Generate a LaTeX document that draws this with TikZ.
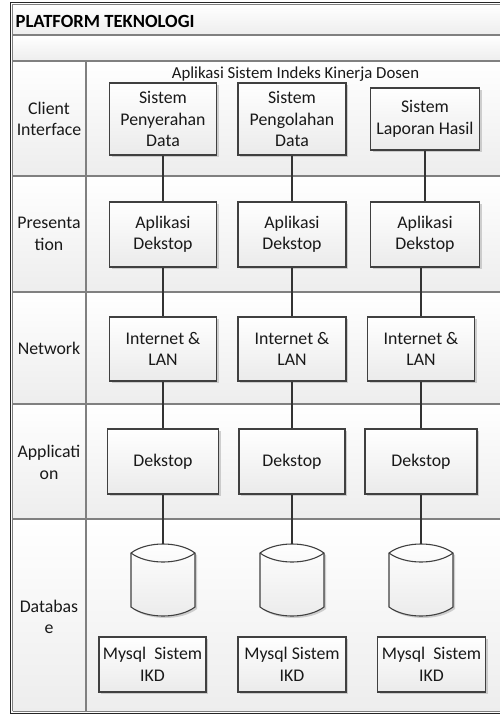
\documentclass[tikz,border=0pt]{standalone}
\usepackage{fontspec}
\setmainfont{Carlito}
\usetikzlibrary{shadows,calc}
\begin{document}
\begin{tikzpicture}[x=1pt,y=-1pt,
  band/.style={top color=white,bottom color=black!7,draw=none},
  divider/.style={draw=black!50,line width=1.4pt},
  outerdark/.style={draw=black!85,line width=0.9pt},
  outerlight/.style={draw=black!50,line width=1pt},
  box/.style={draw=black!75,line width=1.1pt,top color=white,bottom color=black!8,
    align=center,inner sep=0pt,font=\fontsize{17.8}{21.5}\selectfont,text=black!90,
    drop shadow={shadow xshift=2pt,shadow yshift=-2pt,fill=black!30,opacity=0.6}},
  lab/.style={align=center,inner sep=0pt,font=\fontsize{17.8}{21.5}\selectfont,text=black!90},
  conn/.style={draw=black!80,line width=1.3pt},
  cyl/.style={draw=black!75,line width=1.1pt,top color=white,bottom color=black!8},
  cylshadow/.style={fill=black!30,opacity=0.6}
]
\useasboundingbox (0,0) rectangle (500,717);

% row bands
\fill[band] (12,4.5) rectangle (502,35);
\fill[band] (12,35) rectangle (502,61);
\fill[band] (12,61) rectangle (502,176);
\fill[band] (12,176) rectangle (502,292);
\fill[band] (12,292) rectangle (502,404);
\fill[band] (12,404) rectangle (502,519);
\fill[band] (12,519) rectangle (502,711);

% dividers
\foreach \yy in {35,61,176,292,404,519} {\draw[divider] (12,\yy) -- (502,\yy);}
\draw[divider] (86,61) -- (86,711);

% outer double frame
\draw[outerdark] (10,713.5) -- (10,2) -- (502,2);
\draw[outerdark] (10,713.5) -- (502,713.5);
\draw[outerlight] (12.5,711) -- (12.5,4.5) -- (502,4.5);
\draw[outerlight] (12.5,711) -- (502,711);

% title texts
\node[anchor=west,inner sep=0pt,font=\fontsize{18.6}{21}\selectfont\bfseries,text=black] (title) at (15.5,21) {PLATFORM TEKNOLOGI};
\node[inner sep=0pt,font=\fontsize{16.8}{20}\selectfont,text=black!90] (apptitle) at (295.5,74) {Aplikasi Sistem Indeks Kinerja Dosen};

% left labels
\node[lab] (lclient) at (49,119) {Client\\Interface};
\node[lab] (lpres) at (49,234) {Presenta\\tion};
\node[lab] (lnet) at (49,348) {Network};
\node[lab] (lapp) at (49,462.5) {Applicati\\on};
\node[lab] (ldb) at (49,617) {Databas\\e};

% client interface boxes
\node[box,minimum width=107pt,minimum height=72pt] (c1) at (163,119) {Sistem\\Penyerahan\\Data};
\node[box,minimum width=108pt,minimum height=72pt] (c2) at (292,119) {Sistem\\Pengolahan\\Data};
\node[box,minimum width=109pt,minimum height=62pt] (c3) at (425,119) {Sistem\\Laporan Hasil};

% presentation boxes
\node[box,minimum width=107pt,minimum height=65pt] (p1) at (163,234.5) {Aplikasi\\Dekstop};
\node[box,minimum width=108pt,minimum height=65pt] (p2) at (292,234.5) {Aplikasi\\Dekstop};
\node[box,minimum width=109pt,minimum height=65pt] (p3) at (425,234.5) {Aplikasi\\Dekstop};

% network boxes
\node[box,minimum width=107pt,minimum height=64pt] (n1) at (163,349) {Internet \&\\LAN};
\node[box,minimum width=108pt,minimum height=64pt] (n2) at (292,349) {Internet \&\\LAN};
\node[box,minimum width=107pt,minimum height=64pt] (n3) at (421,349) {Internet \&\\LAN};

% application boxes
\node[box,minimum width=111pt,minimum height=65pt] (a1) at (163,461.5) {Dekstop};
\node[box,minimum width=106pt,minimum height=65pt] (a2) at (292,461.5) {Dekstop};
\node[box,minimum width=112pt,minimum height=65pt] (a3) at (421,461.5) {Dekstop};

% mysql boxes
\node[box,minimum width=107pt,minimum height=55pt] (m1) at (152.5,664.5) {Mysql\ \ Sistem\\IKD};
\node[box,minimum width=108pt,minimum height=55pt] (m2) at (292,664.5) {Mysql Sistem\\IKD};
\node[box,minimum width=108pt,minimum height=55pt] (m3) at (431.5,664.5) {Mysql\ \ Sistem\\IKD};

% database cylinders
\foreach \cx/\n in {163/1,292/2,421/3} {
  \begin{scope}[shift={(2,2)}]
    \fill[cylshadow] (\cx-32,553) -- (\cx-32,607) .. controls (\cx-16,619) and (\cx+16,619) .. (\cx+32,607) -- (\cx+32,553) .. controls (\cx+16,541) and (\cx-16,541) .. cycle;
  \end{scope}
  \draw[cyl] (\cx-32,553) -- (\cx-32,607) .. controls (\cx-16,619) and (\cx+16,619) .. (\cx+32,607) -- (\cx+32,553) .. controls (\cx+16,541) and (\cx-16,541) .. cycle;
  \draw[draw=black!75,line width=1.1pt] (\cx-32,553) .. controls (\cx-16,565) and (\cx+16,565) .. (\cx+32,553);
  \coordinate (db\n) at (\cx,544);
}

% connectors
\draw[conn] (c1.south) -- (p1.north);
\draw[conn] (p1.south) -- (n1.north);
\draw[conn] (n1.south) -- (a1.north);
\draw[conn] (a1.south) -- (db1);
\draw[conn] (c2.south) -- (p2.north);
\draw[conn] (p2.south) -- (n2.north);
\draw[conn] (n2.south) -- (a2.north);
\draw[conn] (a2.south) -- (db2);
\draw[conn] (c3.south) -- (p3.north);
\draw[conn] (n3.north |- p3.south) -- (n3.north);
\draw[conn] (n3.south) -- (a3.north);
\draw[conn] (a3.south) -- (db3);
\end{tikzpicture}
\end{document}
